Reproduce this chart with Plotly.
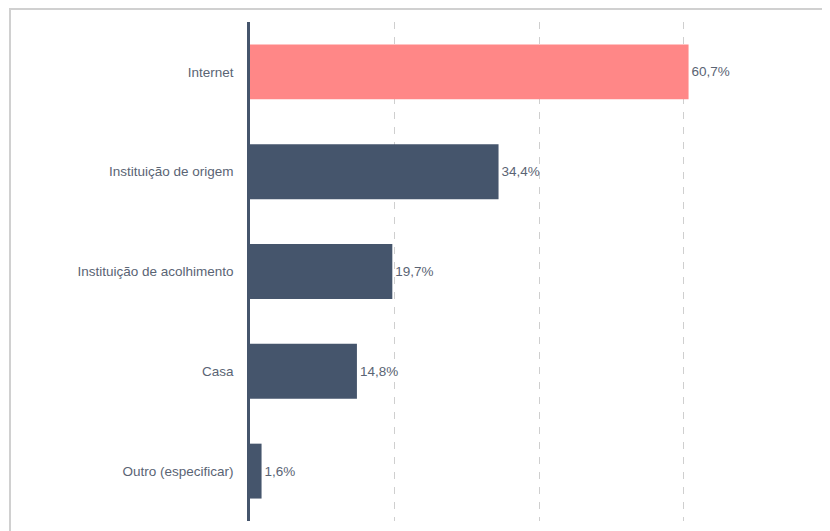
import plotly.graph_objects as go

categorias = ["Internet", "Instituição de origem", "Instituição de acolhimento", "Casa", "Outro (especificar)"]
valores = [60.7, 34.4, 19.7, 14.8, 1.6]
cores = ["#FF8787", "#45556C", "#45556C", "#45556C", "#45556C"]

# rótulos no formato português (vírgula decimal)
rotulos = [f"{v:.1f}".replace(".", ",") + "%" for v in valores]

# a página tem 8px de margem no body, por isso tudo é deslocado
W, H = 830, 531
L, R, T, B = 242, 10, 13.5, 17.5
pw, ph = W - L - R, H - T - B

fig = go.Figure(go.Bar(
    x=valores,
    y=categorias,
    orientation="h",
    marker=dict(color=cores, line=dict(width=0)),
    width=0.55,
    text=rotulos,
    textposition="outside",
    textfont=dict(size=13.5, color="#5a6474"),
    cliponaxis=False,
    hoverinfo="skip",
))

fig.update_xaxes(
    range=[0, 80],
    dtick=20,
    showticklabels=False,
    showgrid=True,
    gridcolor="#cfcfcf",
    gridwidth=1,
    griddash="7px,8px",
    zeroline=False,
    showline=False,
)
fig.update_yaxes(
    autorange=False,
    range=[4.5, -0.5],
    categoryorder="array",
    categoryarray=categorias,
    showline=True,
    linecolor="#45556C",
    linewidth=2.5,
    showgrid=False,
    ticks="",
    ticklabelstandoff=11,
    tickfont=dict(size=13.5, color="#5a6474"),
)

# moldura cinza clara em volta do gráfico
fig.add_shape(
    type="rect", xref="paper", yref="paper",
    x0=(2 - L) / pw, x1=(W + 5 - L) / pw,
    y0=(H - B - (H + 5)) / ph, y1=(H - B - 0.5) / ph,
    line=dict(color="#d0d0d0", width=2),
    fillcolor="rgba(0,0,0,0)",
    layer="below",
)

fig.update_layout(
    width=W,
    height=H,
    autosize=False,
    margin=dict(l=L, r=R, t=T, b=B),
    paper_bgcolor="white",
    plot_bgcolor="white",
    font=dict(family="Liberation Sans, Arial, sans-serif", color="#5a6474"),
    showlegend=False,
    bargap=0.45,
)

fig.write_html("out.html", config={"displayModeBar": False})
